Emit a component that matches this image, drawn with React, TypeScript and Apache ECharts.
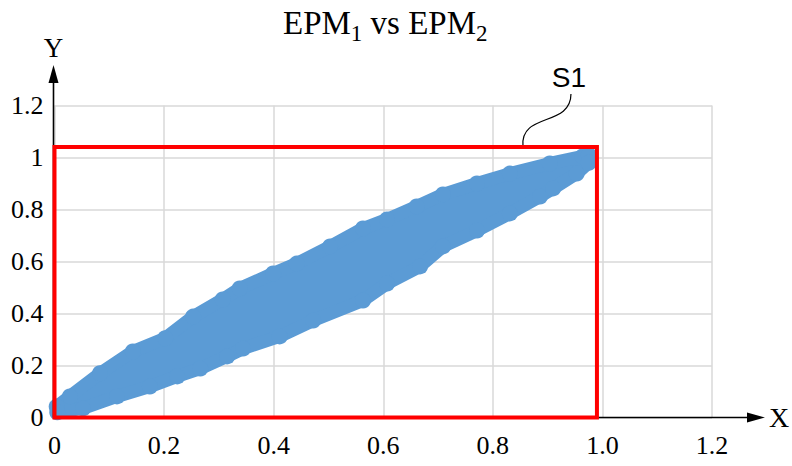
import React, { useEffect, useRef } from "react";
import * as echarts from "echarts";

const xTickLabels = ["0", "0.2", "0.4", "0.6", "0.8", "1.0", "1.2"];
const yTickLabels = ["0", "0.2", "0.4", "0.6", "0.8", "1", "1.2"];

// centres of the outermost points along the upper edge of the cloud
const upperEdge: number[][] = [
  [0.004, 0.042], [0.028, 0.081], [0.083, 0.17], [0.143, 0.254], [0.202, 0.305],
  [0.253, 0.388], [0.307, 0.454], [0.338, 0.496], [0.399, 0.554], [0.442, 0.592],
  [0.503, 0.658], [0.563, 0.727], [0.607, 0.762], [0.661, 0.812], [0.709, 0.858],
  [0.771, 0.9], [0.831, 0.938], [0.904, 0.977], [0.964, 1.004], [0.975, 1.01],
];
// centres of the outermost points along the lower edge of the cloud
const lowerEdge: number[][] = [
  [0.005, 0.02], [0.052, 0.035], [0.114, 0.081], [0.174, 0.119], [0.224, 0.158],
  [0.266, 0.188], [0.315, 0.235], [0.344, 0.265], [0.411, 0.312], [0.472, 0.373],
  [0.563, 0.45], [0.607, 0.515], [0.667, 0.581], [0.709, 0.658], [0.771, 0.719],
  [0.831, 0.785], [0.886, 0.85], [0.91, 0.881], [0.953, 0.938], [0.975, 0.98],
];

const boxCorners: number[][] = [[0, 0], [0.99, 1.04]];
const calloutAnchor: number[] = [0.855, 1.04];
const calloutLabel = "S1";
const titleParts = ["EPM", "1", " vs EPM", "2"];

const BLUE = "#5b9bd5";
const SERIF = "'Liberation Serif', 'Times New Roman', serif";

export default function App() {
  const ref = useRef<HTMLDivElement>(null);
  useEffect(() => {
    if (!ref.current) return;
    const chart = echarts.init(ref.current, null, { renderer: "svg" });
    chart.setOption({
      animation: false,
      backgroundColor: "#ffffff",
      title: {
        text: `{m|${titleParts[0]}}{s|${titleParts[1]}}{m|${titleParts[2]}}{s|${titleParts[3]}}`,
        left: 283,
        top: 1,
        padding: 0,
        textStyle: {
          fontWeight: "normal",
          rich: {
            m: { fontSize: 33, fontFamily: SERIF, fontWeight: "normal", color: "#000", lineHeight: 44, verticalAlign: "middle" },
            s: { fontSize: 23, fontFamily: SERIF, fontWeight: "normal", color: "#000", lineHeight: 23, verticalAlign: "bottom" },
          },
        },
      },
      grid: { left: 54.5, right: 80, top: 105.5, bottom: 48.5, containLabel: false },
      xAxis: {
        type: "value",
        min: 0,
        max: 1.2,
        interval: 0.2,
        axisLine: { show: false },
        axisTick: { show: false },
        splitLine: { show: true, lineStyle: { color: "#d9d9d9", width: 1.5 } },
        axisLabel: {
          margin: 15,
          fontSize: 26,
          fontFamily: SERIF,
          color: "#000",
          formatter: (v: number) => xTickLabels[Math.round(v / 0.2)] ?? "",
        },
      },
      yAxis: {
        type: "value",
        min: 0,
        max: 1.2,
        interval: 0.2,
        axisLine: { show: false },
        axisTick: { show: false },
        splitLine: { show: true, lineStyle: { color: "#d9d9d9", width: 1.5 } },
        axisLabel: {
          margin: 11,
          fontSize: 26,
          fontFamily: SERIF,
          color: "#000",
          formatter: (v: number) => yTickLabels[Math.round(v / 0.2)] ?? "",
        },
      },
      series: [
        {
          type: "custom",
          z: 3,
          clip: false,
          silent: true,
          data: [[0, 0]],
          renderItem: (_p: any, api: any) => {
            const pts = [...upperEdge, ...lowerEdge.slice().reverse()].map((p) => api.coord(p));
            return {
              type: "polygon",
              shape: { points: pts },
              style: { fill: BLUE, stroke: BLUE, lineWidth: 13, lineJoin: "round" },
            };
          },
        },
        {
          type: "scatter",
          z: 4,
          silent: true,
          symbol: "circle",
          symbolSize: 16,
          itemStyle: { color: BLUE, opacity: 1 },
          data: [...upperEdge, ...lowerEdge],
        },
        {
          type: "custom",
          z: 10,
          clip: false,
          silent: true,
          data: [[0, 0]],
          renderItem: (_p: any, api: any) => {
            const p0 = api.coord(boxCorners[0]);
            const p1 = api.coord(boxCorners[1]);
            return {
              type: "rect",
              shape: { x: p0[0], y: p1[1], width: p1[0] - p0[0], height: p0[1] - p1[1] },
              style: { fill: "none", stroke: "#ff0000", lineWidth: 4 },
            };
          },
        },
      ],
    });

    const o = chart.convertToPixel({ gridIndex: 0 }, [0, 0]) as number[];
    const a = chart.convertToPixel({ gridIndex: 0 }, calloutAnchor) as number[];
    const ox = o[0] - 1;
    const oy = o[1];
    chart.setOption({
      graphic: [
        { type: "line", z: 5, shape: { x1: ox, y1: oy, x2: ox, y2: 78 }, style: { stroke: "#000", lineWidth: 1.6 } },
        { type: "polygon", z: 5, shape: { points: [[ox - 5, 83], [ox, 65], [ox + 5, 83]] }, style: { fill: "#000" } },
        { type: "line", z: 5, shape: { x1: ox, y1: oy, x2: 752, y2: oy }, style: { stroke: "#000", lineWidth: 1.6 } },
        { type: "polygon", z: 5, shape: { points: [[747, oy - 5], [765, oy], [747, oy + 5]] }, style: { fill: "#000" } },
        { type: "text", z: 5, x: ox, y: 48, style: { text: "Y", font: `27px ${SERIF}`, fill: "#000", align: "center", verticalAlign: "middle" } },
        { type: "text", z: 5, x: 779, y: oy, style: { text: "X", font: `28px ${SERIF}`, fill: "#000", align: "center", verticalAlign: "middle" } },
        {
          type: "bezierCurve",
          z: 5,
          shape: { x1: a[0], y1: a[1] - 1, cpx1: a[0] - 3, cpy1: a[1] - 35, cpx2: a[0] + 48, cpy2: a[1] - 20, x2: a[0] + 48, y2: a[1] - 53 },
          style: { stroke: "#000", lineWidth: 1.2, fill: "none" },
        },
        {
          type: "text",
          z: 5,
          x: a[0] + 46,
          y: a[1] - 70,
          style: { text: calloutLabel, font: "28px 'Liberation Sans', Arial, sans-serif", fill: "#000", align: "center", verticalAlign: "middle" },
        },
      ],
    });
    return () => chart.dispose();
  }, []);
  return <div ref={ref} style={{ position: "absolute", left: 0, top: 0, width: 792, height: 466 }} />;
}
